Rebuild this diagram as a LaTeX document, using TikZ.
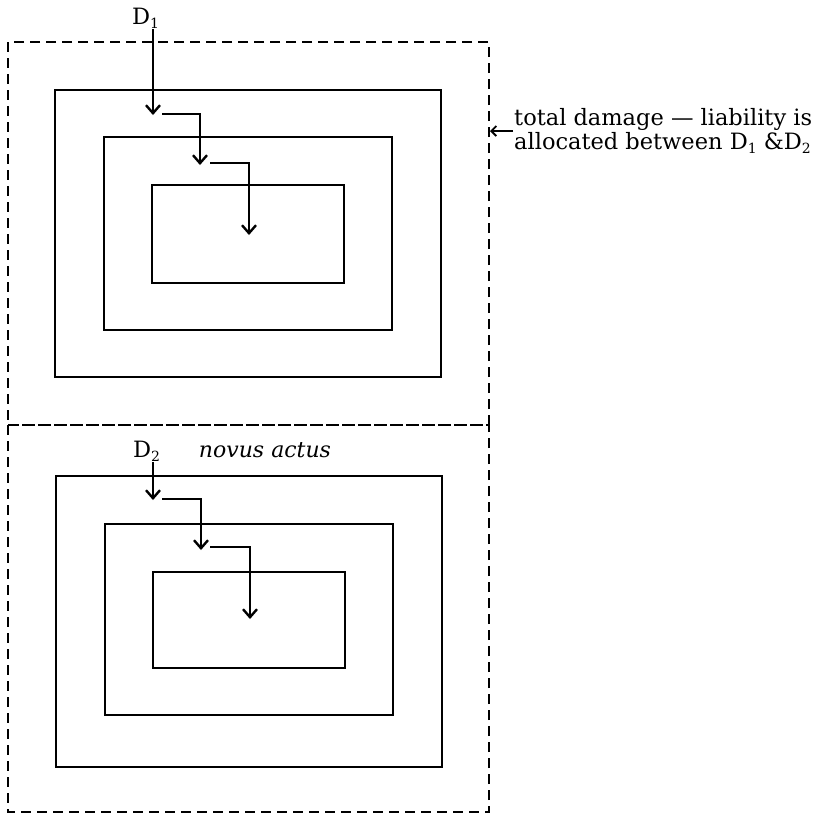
\documentclass[tikz,border=0pt]{standalone}
\usepackage{fontspec}
\setmainfont{DejaVu Serif}
\usetikzlibrary{arrows.meta}
\newcommand{\sbs}[1]{\raisebox{-0.35ex}{\fontsize{14}{14}\selectfont #1}}
\begin{document}
\begin{tikzpicture}[x=1pt,y=-1pt,
  box/.style={line width=2.2pt},
  frame/.style={line width=2.2pt,dash pattern=on 10pt off 6pt},
  flow/.style={line width=2.2pt,-{Straight Barb[length=8pt,width=14pt,line width=2.4pt]}},
  lab/.style={font=\fontsize{22.5}{24}\selectfont,inner sep=1pt},
  ]
\useasboundingbox (0,0) rectangle (819,815);
% dashed frames
\draw[frame] (8,42) rectangle (489,425);
\draw[frame] (8,425) rectangle (489,812);
% top nested rectangles
\draw[box] (55,90) rectangle (441,377);
\draw[box] (104,137) rectangle (392,330);
\draw[box] (152,185) rectangle (344,283);
% bottom nested rectangles
\draw[box] (56,476) rectangle (442,767);
\draw[box] (105,524) rectangle (393,715);
\draw[box] (153,572) rectangle (345,668);
% labels
\node[lab,anchor=west] (d1) at (131,18) {D\sbs{1}};
\node[lab,anchor=west] (d2) at (132,451) {D\sbs{2}};
\node[lab,font=\fontsize{22}{24}\selectfont\itshape] (novus) at (265,450) {novus actus};
\node[lab,anchor=west,align=left,font=\fontsize{22.5}{20.5}\selectfont] (note) at (513,131) {total damage — liability is\\allocated between D\sbs{1} \&D\sbs{2}};
% top chain
\coordinate (t1) at (153,115);
\coordinate (t1s) at (162,114);
\coordinate (t2c) at (200,114);
\coordinate (t2) at (200,165);
\coordinate (t2s) at (210,163);
\coordinate (t3c) at (249,163);
\coordinate (t3) at (249,235);
\draw[flow] (d1.south -| t1) -- (t1);
\draw[flow] (t1s) -- (t2c) -- (t2);
\draw[flow] (t2s) -- (t3c) -- (t3);
% bottom chain
\coordinate (b1) at (153,500);
\coordinate (b1s) at (162,499);
\coordinate (b2c) at (201,499);
\coordinate (b2) at (201,550);
\coordinate (b2s) at (210,547);
\coordinate (b3c) at (250,547);
\coordinate (b3) at (250,619);
\draw[flow] (d2.south -| b1) -- (b1);
\draw[flow] (b1s) -- (b2c) -- (b2);
\draw[flow] (b2s) -- (b3c) -- (b3);
% pointer to frame
\coordinate (edge) at (490,131);
\draw[line width=1.6pt,-{Straight Barb[length=5pt,width=10pt,line width=1.8pt]}] (note.west) -- (edge);
\end{tikzpicture}
\end{document}
